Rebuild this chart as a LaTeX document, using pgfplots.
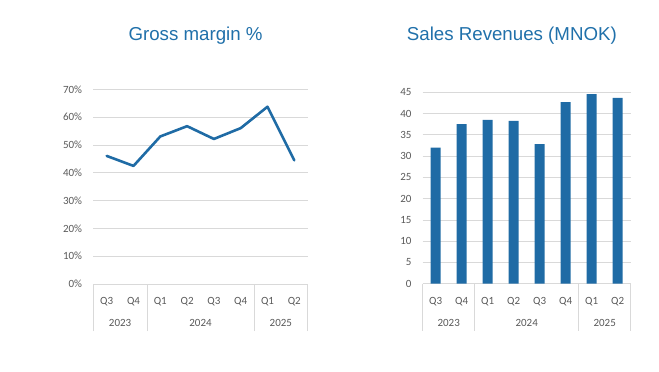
\documentclass[border=0pt]{standalone}
\usepackage{pgfplots}
\pgfplotsset{compat=1.18}
\usepackage{fontspec}
\setmainfont{Carlito}
\newfontfamily\titlefont{Liberation Sans}
\definecolor{barblue}{HTML}{1F6BA5}
\definecolor{titleblue}{HTML}{2070AA}
\definecolor{gridgray}{HTML}{D9D9D9}
\definecolor{ticktext}{HTML}{595959}
\tikzset{yearlab/.style={font=\fontsize{11bp}{13bp}\selectfont, text=ticktext, anchor=base, inner sep=0pt, yshift=-42.5bp}}
\pgfplotsset{
 mystyle/.style={
  scale only axis,
  axis x line=bottom, axis y line=left,
  x axis line style={draw=gridgray,-,line width=0.75bp},
  y axis line style={draw=none},
  ymajorgrids, grid style={gridgray, line width=0.75bp},
  xmin=-0.5,xmax=7.5,ymin=0,
  xtick={0,...,7},
  xticklabels={Q3,Q4,Q1,Q2,Q3,Q4,Q1,Q2},
  major tick length=0pt,
  tick style={draw=none},
  /pgf/number format/assume math mode=true,
  ticklabel style={font=\fontsize{11bp}{13bp}\selectfont, text=ticktext, inner sep=0pt},
  yticklabel style={anchor=east, xshift=-11bp},
  xticklabel style={anchor=base, yshift=-20.5bp},
  extra x ticks={-0.5,1.5,5.5,7.5},
  extra x tick labels={},
  extra x tick style={major tick length=47bp, tick align=outside, tick style={draw=gridgray, line width=0.75bp}, grid=none},
  clip=false,
 },
}
\begin{document}
\begin{tikzpicture}
\path[use as bounding box] (0,0) rectangle (659bp,372bp);
\node[font=\titlefont\fontsize{18.7bp}{22bp}\selectfont, text=titleblue, anchor=base west, inner sep=0pt] at (128.3bp,331.3bp) {Gross margin \%};
\node[font=\titlefont\fontsize{18.7bp}{22bp}\selectfont, text=titleblue, anchor=base west, inner sep=0pt] at (406.7bp,331.3bp) {Sales Revenues (MNOK)};
\begin{axis}[mystyle,
  at={(93.3bp,88bp)}, anchor=south west,
  width=214.4bp, height=194.5bp,
  ymax=70, ytick={0,10,...,70},
  yticklabel={\pgfmathprintnumber{\tick}\%},
]
\addplot[color=barblue, line width=2.6bp, line join=round, line cap=round, mark=none]
  coordinates {(0,46.1) (1,42.5) (2,53.1) (3,56.8) (4,52.2) (5,56.1) (6,63.8) (7,44.5)};
\node[yearlab] at (axis cs:0.5,0) {2023};
\node[yearlab] at (axis cs:3.5,0) {2024};
\node[yearlab] at (axis cs:6.5,0) {2025};
\end{axis}
\begin{axis}[mystyle,
  at={(422.7bp,88.3bp)}, anchor=south west,
  width=208bp, height=191.4bp,
  ymax=45, ytick={0,5,...,45},
]
\addplot[ybar, bar width=10bp, bar shift=0pt, fill=barblue, draw=none]
  coordinates {(0,32.0) (1,37.5) (2,38.5) (3,38.3) (4,32.8) (5,42.7) (6,44.6) (7,43.7)};
\node[yearlab] at (axis cs:0.5,0) {2023};
\node[yearlab] at (axis cs:3.5,0) {2024};
\node[yearlab] at (axis cs:6.5,0) {2025};
\end{axis}
\end{tikzpicture}
\end{document}
